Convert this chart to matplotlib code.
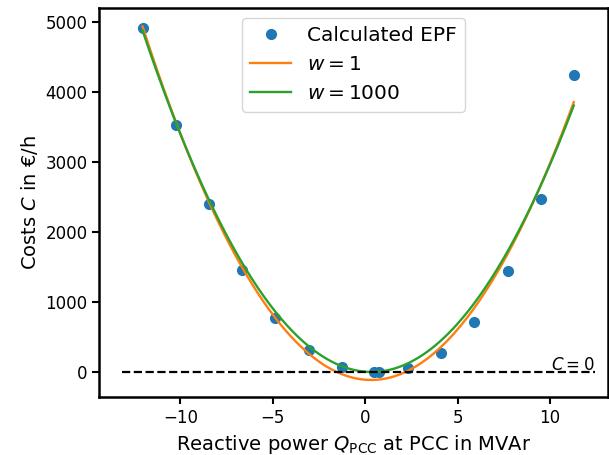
import numpy as np
import matplotlib.pyplot as plt

# reactive power grid and calculated costs
q_pcc = np.array([-12.05, -10.23, -8.43, -6.65, -4.88, -3.06, -1.24, 0.49, 0.72,
                  2.29, 4.09, 5.89, 7.70, 9.50, 11.28])
costs = np.array([4903, 3531, 2389, 1460, 769, 317, 69, 0, 0,
                  60, 269, 711, 1440, 2464, 4240])

# quadratic fits: plain least squares and with weight 1000 on the optimum points
w_low = np.ones_like(q_pcc)
w_high = np.ones_like(q_pcc)
w_high[costs == 0] = np.sqrt(1000)

p1 = np.polyfit(q_pcc, costs, 2, w=w_low)
p2 = np.polyfit(q_pcc, costs, 2, w=w_high)

qq = np.linspace(q_pcc.min(), q_pcc.max(), 300)

fig = plt.figure(figsize=(6.09, 4.55), dpi=100)
ax = fig.add_axes([0.163, 0.127, 0.835, 0.855])

ax.plot(q_pcc, costs, 'o', ms=7, label='Calculated EPF')
ax.plot(qq, np.polyval(p1, qq), lw=1.7, label='$w=1$')
ax.plot(qq, np.polyval(p2, qq), lw=1.7, label='$w=1000$')
ax.plot([-13.17, 12.42], [0, 0], 'k--', lw=1.6)
ax.text(12.4, 30, '$C=0$', ha='right', va='baseline', fontsize=12)

ax.set_xlim(-14.39, 13.12)
ax.set_ylim(-364, 5193)
ax.set_xlabel('Reactive power $Q_{\\mathrm{PCC}}$ at PCC in MVAr', fontsize=14)
ax.set_ylabel('Costs $C$ in €/h', fontsize=14)
ax.tick_params(labelsize=12, width=1.5, length=5)
for s in ax.spines.values():
    s.set_linewidth(1.8)
ax.legend(loc='upper center', fontsize=14.5)

fig.savefig('out.png', dpi=100)
